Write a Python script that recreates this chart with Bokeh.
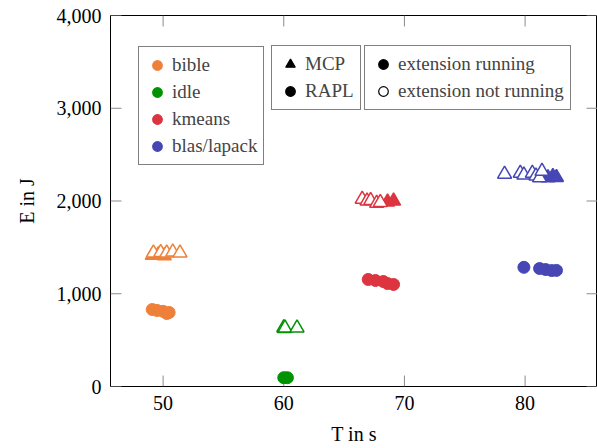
import math
from bokeh.plotting import figure
from bokeh.models import (Legend, LegendItem, NumeralTickFormatter,
                          FixedTicker, Range1d)
from bokeh.embed import file_html
from bokeh.resources import INLINE

# ---------------- data ----------------
categories = ["bible", "idle", "kmeans", "blas/lapack"]
colors = ["#EE803A", "#009200", "#DC3540", "#4646B4"]

x_ticks = [50, 60, 70, 80]
y_ticks = [0, 1000, 2000, 3000, 4000]

# MCP, extension running (filled triangles)
bible_mcp_on_T = [49.1, 49.6, 50.1]
bible_mcp_on_E = [1415, 1420, 1410]
idle_mcp_on_T = [60.05]
idle_mcp_on_E = [625]
kmeans_mcp_on_T = [68.6, 69.1]
kmeans_mcp_on_E = [1990, 2000]
blas_mcp_on_T = [81.9, 82.3, 82.6]
blas_mcp_on_E = [2250, 2265, 2255]

# MCP, extension not running (open triangles)
bible_mcp_off_T = [49.2, 49.8, 50.3, 50.8, 51.4]
bible_mcp_off_E = [1440, 1445, 1440, 1450, 1440]
idle_mcp_off_T = [60.0, 60.1, 61.1]
idle_mcp_off_E = [635, 630, 632]
kmeans_mcp_off_T = [66.5, 66.9, 67.2, 67.7, 68.0]
kmeans_mcp_off_E = [2020, 2000, 2005, 1975, 1985]
blas_mcp_off_T = [78.3, 79.6, 79.9, 80.6, 80.9, 81.2, 81.4]
blas_mcp_off_E = [2290, 2300, 2280, 2300, 2270, 2250, 2320]

# RAPL, extension running (filled circles)
bible_rapl_T = [49.1, 49.5, 50.0, 50.3, 50.5]
bible_rapl_E = [830, 820, 810, 787, 798]
idle_rapl_T = [60.0, 60.3]
idle_rapl_E = [95, 95]
kmeans_rapl_T = [67.0, 67.6, 68.25, 68.6, 69.1]
kmeans_rapl_E = [1154, 1143, 1132, 1110, 1100]
blas_rapl_T = [79.9, 81.2, 81.7, 82.2, 82.6]
blas_rapl_E = [1285, 1272, 1261, 1250, 1252]

mcp_on = [(bible_mcp_on_T, bible_mcp_on_E), (idle_mcp_on_T, idle_mcp_on_E),
          (kmeans_mcp_on_T, kmeans_mcp_on_E), (blas_mcp_on_T, blas_mcp_on_E)]
mcp_off = [(bible_mcp_off_T, bible_mcp_off_E), (idle_mcp_off_T, idle_mcp_off_E),
           (kmeans_mcp_off_T, kmeans_mcp_off_E), (blas_mcp_off_T, blas_mcp_off_E)]
rapl_on = [(bible_rapl_T, bible_rapl_E), (idle_rapl_T, idle_rapl_E),
           (kmeans_rapl_T, kmeans_rapl_E), (blas_rapl_T, blas_rapl_E)]

FONT = "Liberation Serif"
TICK_COLOR = "#8c8c8c"

X_START, X_END = 45.64, 86.0
Y_START, Y_END = 0, 4000

# ---------------- figure ----------------
p = figure(width=597, height=448, output_backend="svg", toolbar_location=None,
           x_range=Range1d(X_START, X_END), y_range=Range1d(Y_START, Y_END),
           min_border_left=110, min_border_right=0, min_border_top=15,
           min_border_bottom=62)
p.xgrid.visible = False
p.ygrid.visible = False
p.outline_line_color = "black"
p.outline_line_width = 1
p.background_fill_color = "white"
p.border_fill_color = "white"

for ax, ticks in ((p.xaxis[0], x_ticks), (p.yaxis[0], y_ticks)):
    ax.ticker = FixedTicker(ticks=ticks)
    ax.axis_line_color = None
    ax.major_tick_in = 0
    ax.major_tick_out = 0
    ax.minor_tick_line_color = None
    ax.major_label_text_font = FONT
    ax.major_label_text_font_size = "20px"
    ax.major_label_text_color = "black"
    ax.major_label_standoff = 9
    ax.axis_label_text_font = FONT
    ax.axis_label_text_font_size = "20px"
    ax.axis_label_text_font_style = "normal"
    ax.axis_label_text_color = "black"
p.yaxis[0].formatter = NumeralTickFormatter(format="0,0")
p.xaxis[0].axis_label = "T in s"
p.yaxis[0].axis_label = "E in J"
p.xaxis[0].axis_label_standoff = 10
p.yaxis[0].axis_label_standoff = 16

# inward tick marks on all four sides (pgfplots style)
TL = 11
p.ray(x=[X_START] * len(y_ticks), y=y_ticks, length=TL, length_units="screen",
      angle=0, line_color=TICK_COLOR, line_width=1)
p.ray(x=[X_END] * len(y_ticks), y=y_ticks, length=TL, length_units="screen",
      angle=math.pi, line_color=TICK_COLOR, line_width=1)
p.ray(x=x_ticks, y=[Y_START] * len(x_ticks), length=TL, length_units="screen",
      angle=math.pi / 2, line_color=TICK_COLOR, line_width=1)
p.ray(x=x_ticks, y=[Y_END] * len(x_ticks), length=TL, length_units="screen",
      angle=-math.pi / 2, line_color=TICK_COLOR, line_width=1)

# ---------------- data marks ----------------
for (T, E), c in zip(mcp_on, colors):
    p.scatter(T, E, marker="triangle", size=14, fill_color=c, line_color=c,
              line_width=1.5)
for (T, E), c in zip(mcp_off, colors):
    p.scatter(T, E, marker="triangle", size=14, fill_color="white", line_color=c,
              line_width=1.5)
for (T, E), c in zip(rapl_on, colors):
    p.scatter(T, E, marker="circle", size=12, fill_color=c, line_color=c,
              line_width=1)

# ---------------- legends ----------------
NAN = float("nan")

def dummy(marker, fill, line):
    return p.scatter([NAN], [NAN], marker=marker, size=10, fill_color=fill,
                     line_color=line, line_width=1.2)

def make_legend(items, loc):
    return Legend(items=items, location=loc, orientation="vertical",
                  label_text_font=FONT, label_text_font_size="19px",
                  glyph_height=24, glyph_width=24, label_height=24,
                  spacing=3, padding=6, label_standoff=3, margin=0,
                  border_line_color="black", border_line_width=1,
                  background_fill_color="white", background_fill_alpha=1.0)

leg1 = make_legend([LegendItem(label=cat, renderers=[dummy("circle", c, c)])
                    for cat, c in zip(categories, colors)], (28, 221))
leg2 = make_legend([LegendItem(label="MCP", renderers=[dummy("triangle", "black", "black")]),
                    LegendItem(label="RAPL", renderers=[dummy("circle", "black", "black")])],
                   (161, 276))
leg3 = make_legend([LegendItem(label="extension running",
                               renderers=[dummy("circle", "black", "black")]),
                    LegendItem(label="extension not running",
                               renderers=[dummy("circle", "white", "black")])],
                   (254, 276))
for lg in (leg1, leg2, leg3):
    p.add_layout(lg, "center")

open("out.html", "w").write(file_html(p, INLINE))
